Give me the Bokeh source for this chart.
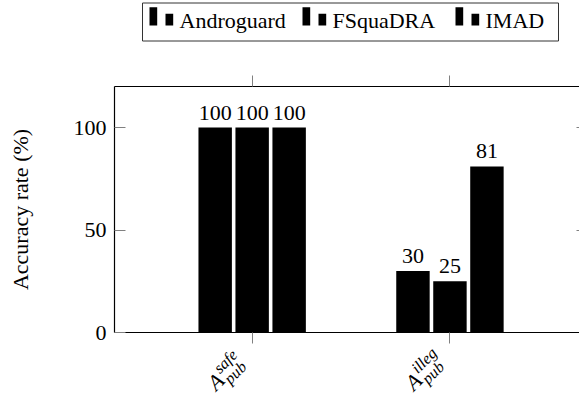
import numpy as np
from bokeh.plotting import figure
from bokeh.models import (ColumnDataSource, LabelSet, LinearAxis, FixedTicker, Range1d,
                          CustomJSTickFormatter)
from bokeh.layouts import column
from bokeh.embed import file_html
from bokeh.resources import INLINE
from bokeh.core.properties import value

# ---- data ----
categories_base = ["A", "A"]
categories_sup = ["safe", "illeg"]
categories_sub = ["pub", "pub"]
series = ["Androguard", "FSquaDRA", "IMAD"]
androguard = [100, 30]
fsquadra = [100, 25]
imad = [100, 81]
y_ticks = [0, 50, 100]
y_label = "Accuracy rate (%)"

FONT = "Liberation Serif"
W = 579
LEFT = 114
LEG_H = 44
FRAME_TOP = 86
FRAME_BOT = 332
MAIN_BOTTOM_BORDER = 13
MAIN_H = FRAME_BOT + MAIN_BOTTOM_BORDER - LEG_H
LAB_TOP = LEG_H + MAIN_H
LAB_H = 395 - LAB_TOP
BASE_FIX = 5  # renderer places alphabetic baseline ~5px low at 22px

# ---- legend figure (frame is aligned with the main plot's frame) ----
leg = figure(width=W, height=LEG_H, x_range=Range1d(LEFT, W), y_range=Range1d(LEG_H, 0),
             output_backend="svg", toolbar_location=None, min_border=0,
             min_border_left=LEFT, min_border_right=0,
             x_axis_type=None, y_axis_type=None, outline_line_color=None)
leg.grid.visible = False
leg.quad(left=[142], right=[558], top=[2.5], bottom=[40.5], fill_color=None,
         line_color="#333333", line_width=1)
item_x = [149, 302, 455]
leg.quad(left=[x for x in item_x], right=[x + 7.7 for x in item_x],
         top=[6.7] * 3, bottom=[25] * 3, fill_color="black", line_color=None)
leg.quad(left=[x + 16 for x in item_x], right=[x + 23.7 for x in item_x],
         top=[13.3] * 3, bottom=[25] * 3, fill_color="black", line_color=None)
leg.text(x=[x + 30 for x in item_x], y=[24.5 - BASE_FIX] * 3, text=series,
         text_font=value(FONT), text_font_size=value("22px"),
         text_align="left", text_baseline="alphabetic", text_color="black")

# ---- main figure ----
p = figure(width=W, height=MAIN_H, x_range=Range1d(-0.696, 1.655), y_range=Range1d(0, 120),
           output_backend="svg", toolbar_location=None,
           min_border_left=LEFT, min_border_right=0, min_border_top=FRAME_TOP - LEG_H,
           min_border_bottom=MAIN_BOTTOM_BORDER, outline_line_color=None)
p.grid.visible = False

xs = np.arange(len(categories_sup))
offsets = [-0.187, 0.0, 0.187]
for vals, off in zip([androguard, fsquadra, imad], offsets):
    src = ColumnDataSource(dict(x=xs + off, top=vals, label=[str(v) for v in vals]))
    p.vbar(x="x", top="top", width=0.169, source=src, fill_color="black", line_color=None)
    p.add_layout(LabelSet(x="x", y="top", text="label", source=src, y_offset=8,
                          text_align="center", text_baseline="alphabetic",
                          text_font=value(FONT), text_font_size=value("22px"),
                          text_color="black"))

blank = CustomJSTickFormatter(code="return ''")

yax = p.yaxis[0]
yax.ticker = FixedTicker(ticks=y_ticks)
yax.major_tick_in = 11
yax.major_tick_out = 0
yax.minor_tick_line_color = None
yax.major_tick_line_color = "#808080"
yax.axis_line_color = "black"
yax.axis_line_width = 1.2
yax.major_label_text_font = FONT
yax.major_label_text_font_size = "22px"
yax.major_label_text_color = "black"
yax.major_label_standoff = 8
yax.axis_label = y_label
yax.axis_label_text_font = FONT
yax.axis_label_text_font_size = "22px"
yax.axis_label_text_font_style = "normal"
yax.axis_label_text_color = "black"
yax.axis_label_standoff = 38

xax = p.xaxis[0]
xax.ticker = FixedTicker(ticks=list(xs))
xax.formatter = blank
xax.major_tick_in = 0
xax.major_tick_out = 11
xax.minor_tick_line_color = None
xax.major_tick_line_color = "#808080"
xax.axis_line_color = "black"
xax.axis_line_width = 1.2
xax.major_label_text_font_size = "1px"
xax.major_label_standoff = 0

top = LinearAxis(ticker=FixedTicker(ticks=list(xs)), formatter=blank,
                 major_tick_in=0, major_tick_out=11,
                 minor_tick_line_color=None, major_tick_line_color="#808080",
                 axis_line_color="black", axis_line_width=1.2,
                 major_label_text_font_size="1px", major_label_standoff=0)
p.add_layout(top, "above")

right = LinearAxis(ticker=FixedTicker(ticks=[50, 100]), formatter=blank,
                   major_tick_in=3, major_tick_out=0,
                   minor_tick_line_color=None, major_tick_line_color="#808080",
                   axis_line_color=None, major_label_text_font_size="1px",
                   major_label_standoff=0)
p.add_layout(right, "right")

# ---- rotated category labels A^{sup}_{sub}, in a strip below the plot sharing x ----
lab = figure(width=W, height=LAB_H, x_range=p.x_range, y_range=Range1d(LAB_H, 0),
             output_backend="svg", toolbar_location=None, min_border=0,
             min_border_left=LEFT, min_border_right=0,
             x_axis_type=None, y_axis_type=None, outline_line_color=None)
lab.grid.visible = False
# (texts, font px, x offset from tick, y below the bottom axis line)
pieces = [(categories_base, 22, -37.7, 57.5),
          (categories_sup, 16, -33.5, 40.5),
          (categories_sub, 16, -22.9, 51.1)]
for texts, size, xo, below in pieces:
    fix = BASE_FIX * size / 22.0 * 0.7071
    lab.text(x=xs, y=[FRAME_BOT + below - LAB_TOP - fix] * len(xs), text=texts,
             x_offset=xo - fix, angle=np.pi / 4,
             text_font=value(FONT), text_font_style=value("italic"),
             text_font_size=value(f"{size}px"), text_align="left",
             text_baseline="alphabetic", text_color="black")

layout = column(leg, p, lab)
open("out.html", "w").write(file_html(layout, INLINE))
